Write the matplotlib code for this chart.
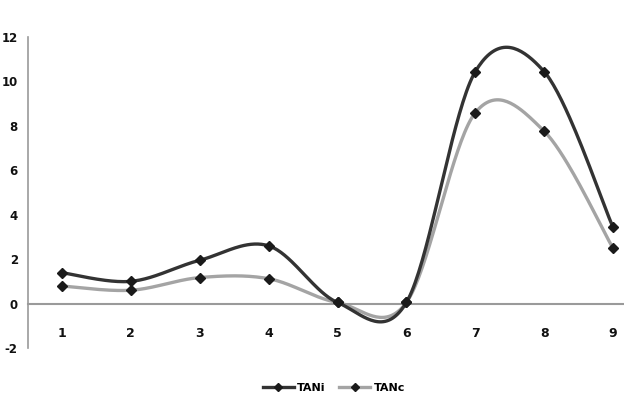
import numpy as np
import matplotlib
matplotlib.use("Agg")
import matplotlib.pyplot as plt
from matplotlib.lines import Line2D

categories = [1, 2, 3, 4, 5, 6, 7, 8, 9]
tani = [1.39, 1.00, 1.95, 2.60, 0.05, 0.05, 10.44, 10.44, 3.43]
tanc = [0.79, 0.60, 1.17, 1.12, 0.05, 0.05, 8.59, 7.76, 2.49]
y_ticks = [-2, 0, 2, 4, 6, 8, 10, 12]


def smooth(xs, ys, n=40):
    # Catmull-Rom style smoothing (like Excel smoothed lines)
    xs = np.asarray(xs, float)
    ys = np.asarray(ys, float)
    px = np.concatenate([[xs[0]], xs, [xs[-1]]])
    py = np.concatenate([[ys[0]], ys, [ys[-1]]])
    outx, outy = [], []
    for i in range(1, len(px) - 2):
        p0, p1, p2, p3 = py[i - 1], py[i], py[i + 1], py[i + 2]
        x0, x1, x2, x3 = px[i - 1], px[i], px[i + 1], px[i + 2]
        c1y = p1 + (p2 - p0) / 6
        c2y = p2 - (p3 - p1) / 6
        c1x = x1 + (x2 - x0) / 6
        c2x = x2 - (x3 - x1) / 6
        t = np.linspace(0, 1, n)
        b0 = (1 - t) ** 3
        b1 = 3 * (1 - t) ** 2 * t
        b2 = 3 * (1 - t) * t ** 2
        b3 = t ** 3
        outx.append(b0 * x1 + b1 * c1x + b2 * c2x + b3 * x2)
        outy.append(b0 * p1 + b1 * c1y + b2 * c2y + b3 * p2)
    return np.concatenate(outx), np.concatenate(outy)


fig = plt.figure(figsize=(6.24, 4.0), dpi=100)
ax = fig.add_axes([27.5 / 624, 52 / 400, 620 / 624, 311 / 400])

dark = "#333333"
light = "#a4a4a4"
mk = "#1a1a1a"

sx, sy = smooth(categories, tanc)
ax.plot(sx, sy, color=light, lw=2.4, solid_capstyle="round", zorder=2)
sx, sy = smooth(categories, tani)
ax.plot(sx, sy, color=dark, lw=2.4, solid_capstyle="round", zorder=3)
ax.plot(categories, tanc, ls="none", marker="D", ms=5, color=mk, zorder=4)
ax.plot(categories, tani, ls="none", marker="D", ms=5, color=mk, zorder=5)

ax.set_xlim(0.5, 9.5)
ax.set_ylim(-2, 12)
ax.set_yticks(y_ticks)
ax.set_yticklabels([str(v) for v in y_ticks])
ax.set_xticks(categories)
ax.set_xticklabels([str(c) for c in categories])

for s in ["top", "right"]:
    ax.spines[s].set_visible(False)
ax.spines["left"].set_color("#9a9a9a")
ax.spines["left"].set_linewidth(1.2)
ax.spines["bottom"].set_position(("data", 0))
ax.spines["bottom"].set_color("#9a9a9a")
ax.spines["bottom"].set_linewidth(1.5)

ax.tick_params(axis="y", length=0, pad=7, labelsize=8.5, labelcolor="#111111")
ax.tick_params(axis="x", length=0, pad=17, labelsize=9, labelcolor="#111111")
for lab in ax.get_xticklabels() + ax.get_yticklabels():
    lab.set_fontweight("bold")

handles = [
    Line2D([], [], color=dark, lw=2.4, marker="D", ms=4, markerfacecolor=mk, markeredgecolor=mk),
    Line2D([], [], color=light, lw=2.4, marker="D", ms=4, markerfacecolor=mk, markeredgecolor=mk),
]
fig.legend(handles, ["TANi", "TANc"], loc="center", bbox_to_anchor=(0.535, 0.03),
           ncol=2, frameon=False, handlelength=2.8, columnspacing=1.2,
           handletextpad=0.3, prop={"weight": "bold", "size": 8})

fig.savefig("out.png", dpi=100)
